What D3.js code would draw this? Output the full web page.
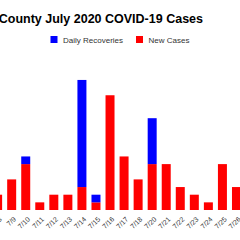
<!DOCTYPE html>
<html>
<head>
<meta charset="utf-8">
<script src="https://cdn.jsdelivr.net/npm/d3@7"></script>
<style>
  body { margin: 0; background: #fff; }
  svg { display: block; font-family: "Liberation Sans", Arial, sans-serif; }
</style>
</head>
<body>
<div id="chart_id"></div>
<script>
var days = ["7/8", "7/9", "7/10", "7/11", "7/12", "7/13", "7/14", "7/15", "7/16",
            "7/17", "7/18", "7/20", "7/21", "7/22", "7/23", "7/24", "7/25", "7/26"];
var newCases   = [2, 4, 6, 1, 2, 2, 3, 1, 15, 7, 4, 6, 6, 3, 2, 1, 6, 3];
var recoveries = [0, 0, 1, 0, 0, 0, 14, 1, 0, 0, 0, 6, 0, 0, 0, 0, 0, 0];
var legendNames = ["Daily Recoveries", "New Cases"];
var colors = {recoveries: "#0000ff", newCases: "#ff0000"};

var width = 240, height = 240;

var svg = d3.select("#chart_id")
  .append("svg")
    .attr("width", width)
    .attr("height", height);

var rows = days.map(function(d, i) {
  return {day: d, newCases: newCases[i], recoveries: recoveries[i]};
});

var stack = d3.stack().keys(["newCases", "recoveries"]);
var series = stack(rows);

// band scale, chart is cropped on both sides
var x = d3.scaleBand()
  .domain(days)
  .range([-9.4, 243.5])
  .paddingInner(0.36)
  .paddingOuter(0.18);

var y = d3.scaleLinear()
  .domain([0, 20])
  .range([210, 57]);

svg.append("g")
  .selectAll("g")
  .data(series)
  .enter()
  .append("g")
    .attr("fill", function(d) { return colors[d.key]; })
  .selectAll("rect")
  .data(function(d) { return d; })
  .enter()
  .append("rect")
    .attr("x", function(d) { return x(d.data.day); })
    .attr("y", function(d) { return y(d[1]); })
    .attr("width", x.bandwidth())
    .attr("height", function(d) { return y(d[0]) - y(d[1]); });

// x axis labels
var xAxis = svg.append("g")
  .attr("transform", "translate(0,210)")
  .call(d3.axisBottom(x).tickSize(0));
xAxis.select(".domain").remove();
xAxis.selectAll("text")
  .attr("transform", "translate(3,8) rotate(-45)")
  .attr("dy", "0.35em")
  .attr("y", 0)
  .style("text-anchor", "end")
  .style("font-size", "7px")
  .style("font-family", "Liberation Sans, Arial, sans-serif")
  .style("fill", "#333");

// title
svg.append("text")
  .attr("x", 203)
  .attr("y", 23)
  .style("text-anchor", "end")
  .style("font-size", "12.5px")
  .style("font-weight", "bold")
  .style("fill", "#000")
  .text("County July 2020 COVID-19 Cases");

// legend
var legendX = [50.5, 136];
var legendCol = [colors.recoveries, colors.newCases];
legendNames.forEach(function(name, i) {
  svg.append("rect")
    .attr("x", legendX[i])
    .attr("y", 36)
    .attr("width", 7)
    .attr("height", 7)
    .attr("fill", legendCol[i]);
  svg.append("text")
    .attr("x", legendX[i] + 12.5)
    .attr("y", 42.5)
    .style("font-size", "8px")
    .style("fill", "#333")
    .text(name);
});
</script>
</body>
</html>
